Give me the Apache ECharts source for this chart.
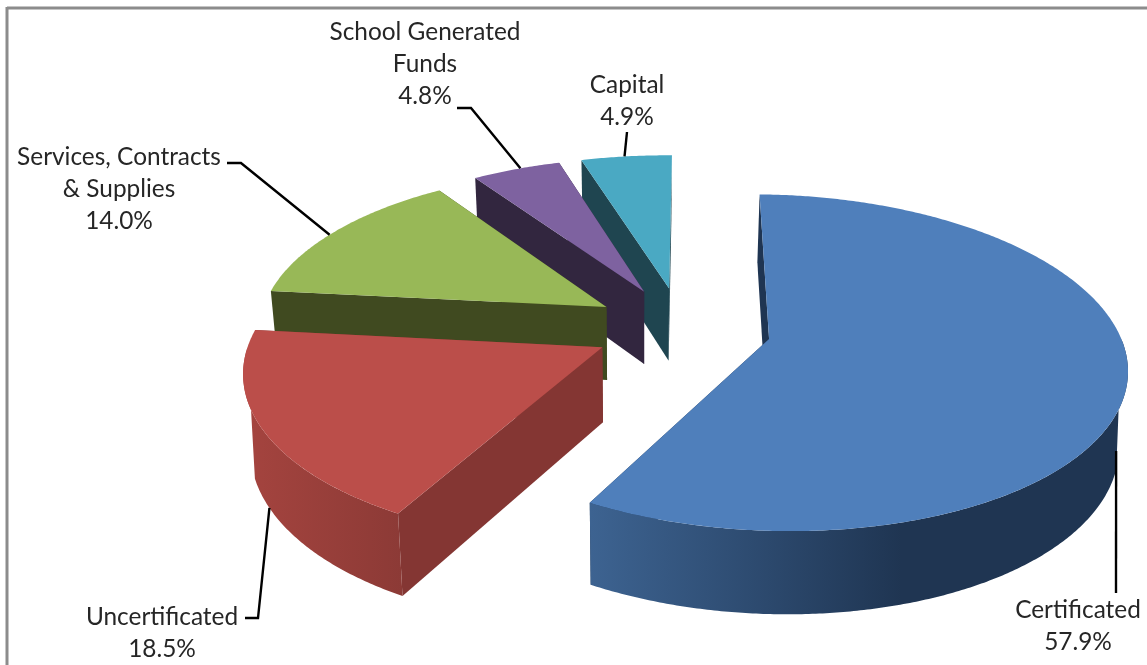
<!DOCTYPE html>
<html>
<head>
<meta charset="utf-8">
<style>html,body{margin:0;padding:0;background:#fff}#chart{width:1147px;height:665px}</style>
<script src="https://cdn.jsdelivr.net/npm/echarts@6/dist/echarts.min.js"></script>
</head>
<body>
<div id="chart"></div>
<script>
// Budget shares, clockwise from the first slice
const names = ['Certificated', 'Uncertificated', 'Services, Contracts\n& Supplies', 'School Generated\nFunds', 'Capital'];
const values = [57.9, 18.5, 14.0, 4.8, 4.9];

// Slice appearance
const topColors = ['#4f7fbb', '#bb4e4a', '#98b857', '#7e62a0', '#4aa9c3'];
const sideColors = ['#1f3552', '#843633', '#404a20', '#32263f', '#1f4550'];
const rimStops = [
  [[0, '#3d6391'], [0.58, '#1f3552'], [1, '#1f3552']],
  [[0, '#a5443f'], [1, '#8c3a36']],
  [[0, '#404a20'], [1, '#404a20']],
  [[0, '#32263f'], [1, '#32263f']],
  [[0, '#1f4550'], [1, '#1f4550']]
];

// Tilted-disc projection parameters; the underside shrinks slightly with distance
const view = { cx: 682, cy: 328, camX: 640, radius: 349, explode: 89, tilt: 0.464, persp: 0.0004, depth: 74, shrink: 0.00025, firstAngle: 1.2, silhouette: 18 };

// Label boxes and leader routing, in page pixels; leaders end on the slice rim
const labelLayout = [
  { x: 1078, y: 610, elbow: [[1116, 593]], rimAt: 0.53, rimZ: -46 },
  { x: 162, y: 617, elbow: [[245, 618], [258, 618]], rimAt: 0.5, rimZ: -74 },
  { x: 119, y: 157, elbow: [[227, 163], [241, 163]], rimAt: 0.47, rimZ: 0 },
  { x: 425, y: 32, elbow: [[457, 108], [471, 108]], rimAt: 0.55, rimZ: 0 },
  { x: 627, y: 85, elbow: [[627, 132]], rimAt: 0.48, rimZ: 0 }
];
const lineGap = 32;

const total = values.reduce((a, b) => a + b, 0);
const spans = [];
values.reduce((start, v) => {
  const end = start + v / total * 360;
  spans.push([start, end]);
  return end;
}, view.firstAngle);

const rad = d => d * Math.PI / 180;

function project(gx, gy, z) {
  const s = 1 / (1 - gy * view.persp);
  const sz = 1 + z * view.shrink;
  return [
    view.camX + (view.cx - view.camX + gx) * s * sz,
    view.cy + (gy * view.tilt * sz - z) * s
  ];
}

function apexOf(i) {
  const mid = rad((spans[i][0] + spans[i][1]) / 2);
  return [Math.sin(mid) * view.explode, -Math.cos(mid) * view.explode];
}

function rimPoint(i, deg, z) {
  const a = apexOf(i), t = rad(deg);
  return project(a[0] + Math.sin(t) * view.radius, a[1] - Math.cos(t) * view.radius, z);
}

function arc(i, from, to, z) {
  const pts = [], steps = Math.max(2, Math.ceil(Math.abs(to - from) * 2));
  for (let k = 0; k <= steps; k++) pts.push(rimPoint(i, from + (to - from) * k / steps, z));
  return pts;
}

function poly(points, fill) {
  return { type: 'polygon', shape: { points }, style: { fill, stroke: null } };
}

// Rows are painted back to front, so the last slice is drawn first
const sliceOf = dataIndex => values.length - 1 - dataIndex;

function renderSlice(params) {
  const i = sliceOf(params.dataIndex), [a0, a1] = spans[i], ap = apexOf(i);
  const apexTop = project(ap[0], ap[1], 0), apexLow = project(ap[0], ap[1], -view.depth);
  const kids = [];
  const radial = deg => poly([apexTop, rimPoint(i, deg, 0), rimPoint(i, deg, -view.depth), apexLow], sideColors[i]);
  kids.push(radial(a1), radial(a0));

  // Only the viewer-facing stretch of the rim gets a wall; where it turns away,
  // the lower arc starts later so the outline runs straight up to the top edge
  const f0 = Math.max(a0, 90), f1 = Math.min(a1, 270);
  if (f1 > f0) {
    const low0 = a0 < 90 ? f0 + view.silhouette : f0;
    const low1 = a1 > 270 ? f1 - view.silhouette : f1;
    kids.push(poly(arc(i, f0, f1, 0).concat(arc(i, low1, low0, -view.depth)), {
      type: 'linear', x: 0, y: 0, x2: 1, y2: 0,
      colorStops: rimStops[i].map(s => ({ offset: s[0], color: s[1] }))
    }));
  }
  kids.push(poly([apexTop].concat(arc(i, a0, a1, 0)), topColors[i]));
  return { type: 'group', children: kids };
}

function renderLabel(params) {
  const i = sliceOf(params.dataIndex), L = labelLayout[i], [a0, a1] = spans[i];
  const rim = rimPoint(i, a0 + (a1 - a0) * L.rimAt, L.rimZ);
  const lines = names[i].split('\n').concat(values[i].toFixed(1) + '%');
  const kids = [{
    type: 'polyline',
    shape: { points: L.elbow.concat([rim]) },
    style: { stroke: '#000', lineWidth: 2.4, fill: null }
  }];
  lines.forEach((t, n) => kids.push({
    type: 'text',
    style: {
      text: t, x: L.x, y: L.y + n * lineGap, align: 'center', verticalAlign: 'middle',
      font: '24.4px Lato', fill: '#262626'
    }
  }));
  return { type: 'group', children: kids };
}

const rows = values.map((v, i) => ({ name: names[i], value: v })).reverse();

const chart = echarts.init(document.getElementById('chart'), null, { renderer: 'canvas' });
chart.setOption({
  animation: false,
  backgroundColor: '#fff',
  graphic: [
    { type: 'line', shape: { x1: 7, y1: 8, x2: 1147, y2: 8 }, style: { stroke: '#8c8c8c', lineWidth: 3 } },
    { type: 'line', shape: { x1: 7, y1: 7, x2: 7, y2: 665 }, style: { stroke: '#8c8c8c', lineWidth: 3 } }
  ],
  series: [
    { type: 'custom', coordinateSystem: 'none', renderItem: renderSlice, data: rows, z: 2, silent: true },
    { type: 'custom', coordinateSystem: 'none', renderItem: renderLabel, data: rows, z: 3, silent: true }
  ]
});
</script>
</body>
</html>
